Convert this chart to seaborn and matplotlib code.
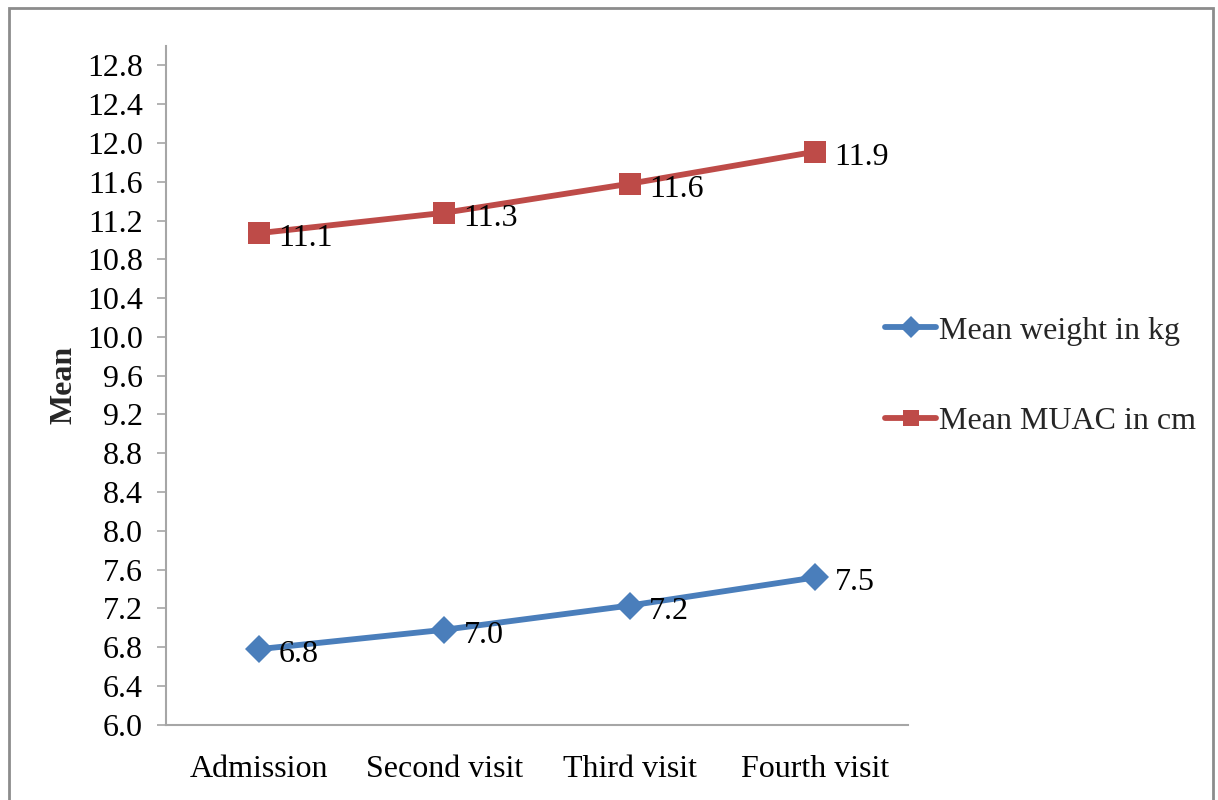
import numpy as np
import pandas as pd
import matplotlib
matplotlib.use("Agg")
import matplotlib.pyplot as plt
from matplotlib.patches import Rectangle
import seaborn as sns

visits = ["Admission", "Second visit", "Third visit", "Fourth visit"]
weight_kg = [6.78, 6.98, 7.23, 7.52]
muac_cm = [11.07, 11.28, 11.58, 11.91]
series_names = ["Mean weight in kg", "Mean MUAC in cm"]
y_ticks = [6.0, 6.4, 6.8, 7.2, 7.6, 8.0, 8.4, 8.8, 9.2, 9.6, 10.0,
           10.4, 10.8, 11.2, 11.6, 12.0, 12.4, 12.8]

df = pd.DataFrame({
    "visit": visits * 2,
    "x": list(range(len(visits))) * 2,
    "value": weight_kg + muac_cm,
    "series": [series_names[0]] * len(visits) + [series_names[1]] * len(visits),
})

sns.set_theme(style="white")
plt.rcParams["font.family"] = ["Liberation Serif", "DejaVu Serif"]

colors = {series_names[0]: "#4A7EBB", series_names[1]: "#BE4B48"}
markers = {series_names[0]: "D", series_names[1]: "s"}
msizes = {series_names[0]: 14.5, series_names[1]: 15.5}

fig = plt.figure(figsize=(12.18, 8.0), dpi=100)
ax = fig.add_axes([0.1363, 0.094, 0.6092, 0.8485])

for name in series_names:
    sub = df[df["series"] == name]
    sns.lineplot(data=sub, x="x", y="value", ax=ax, color=colors[name],
                 linewidth=4.2, marker=markers[name], markersize=msizes[name],
                 markeredgewidth=0, label=name, legend=False)
    for xv, yv in zip(sub["x"], sub["value"]):
        ax.annotate(f"{yv:.1f}", (xv, yv), xytext=(14, -4),
                    textcoords="offset points", ha="left", va="center",
                    fontsize=23, color="black")

ax.set_xlim(-0.5, len(visits) - 0.5)
ax.set_ylim(6.0, 13.0)
ax.set_xticks(range(len(visits)))
ax.set_xticklabels(visits)
ax.set_yticks(y_ticks)
ax.set_yticklabels([f"{t:.1f}" for t in y_ticks])
ax.set_xlabel("")
ax.set_ylabel("Mean", fontsize=23, fontweight="bold", labelpad=6)

for side in ["top", "right"]:
    ax.spines[side].set_visible(False)
for side in ["left", "bottom"]:
    ax.spines[side].set_color("#A6A6A6")
    ax.spines[side].set_linewidth(1.5)

ax.tick_params(axis="y", which="major", length=6.5, width=1.2, color="#A6A6A6",
               direction="out", left=True, pad=10, labelsize=23, labelcolor="black")
ax.tick_params(axis="x", which="major", length=0, pad=22, labelsize=23,
               labelcolor="black")
ax.grid(False)

handles, labels = ax.get_legend_handles_labels()
fig.legend(handles, labels, loc="center left", bbox_to_anchor=(0.703, 0.53),
           frameon=False, fontsize=23, handlelength=1.6, handletextpad=0.1,
           labelspacing=1.9, markerscale=0.75)

fig.patches.append(Rectangle((0.007, -0.01), 0.989, 1.0, transform=fig.transFigure,
                             fill=False, edgecolor="#8C8C8C", linewidth=2.0))

fig.savefig("out.png", dpi=100, facecolor="white")
